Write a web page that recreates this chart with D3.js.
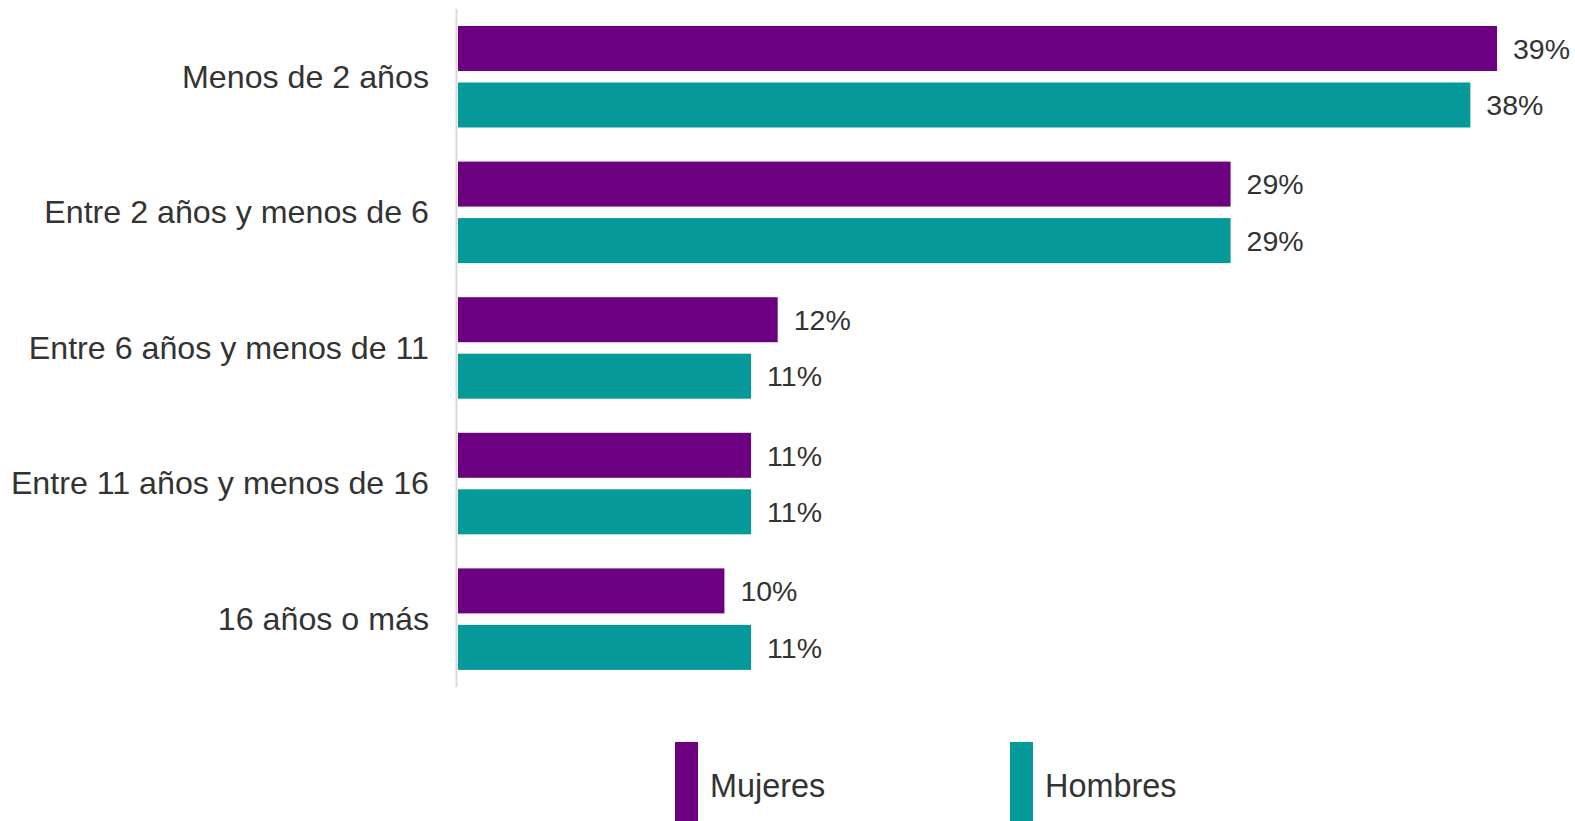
<!DOCTYPE html>
<html>
<head>
<meta charset="utf-8">
<script src="https://d3js.org/d3.v7.min.js"></script>
<style>
  body { margin: 0; background: #fff; }
  svg { display: block; font-family: "Liberation Sans", Arial, sans-serif; }
</style>
</head>
<body>
<svg width="1575" height="821"></svg>
<script>
var categories = ["Menos de 2 años", "Entre 2 años y menos de 6", "Entre 6 años y menos de 11",
                  "Entre 11 años y menos de 16", "16 años o más"];
var series = ["Mujeres", "Hombres"];
var mujeres = [39, 29, 12, 11, 10];
var hombres = [38, 29, 11, 11, 11];
var colors = ["#6b0080", "#05999a"];

var svg = d3.select("svg");

var x = d3.scaleLinear().domain([0, 39]).range([458, 1497]);
var y = d3.scaleBand().domain(categories).range([9, 687]).padding(0);
var y1 = d3.scaleBand().domain(series).range([17, 118.5]).paddingInner(0.2035).paddingOuter(0);
var color = d3.scaleOrdinal().domain(series).range(colors);

var rows = categories.map(function(c, i) {
  return {cat: c, vals: [{s: "Mujeres", v: mujeres[i]}, {s: "Hombres", v: hombres[i]}]};
});

var g = svg.selectAll(".cat")
  .data(rows)
  .enter().append("g")
    .attr("class", "cat")
    .attr("transform", function(d) { return "translate(0," + y(d.cat) + ")"; });

g.selectAll("rect")
  .data(function(d) { return d.vals; })
  .enter().append("rect")
    .attr("x", x(0))
    .attr("y", function(d) { return y1(d.s); })
    .attr("width", function(d) { return x(d.v) - x(0); })
    .attr("height", y1.bandwidth())
    .attr("fill", function(d) { return color(d.s); });

g.selectAll("text.val")
  .data(function(d) { return d.vals; })
  .enter().append("text")
    .attr("class", "val")
    .attr("x", function(d) { return x(d.v) + 16; })
    .attr("y", function(d) { return y1(d.s) + y1.bandwidth() / 2; })
    .attr("dy", "0.36em")
    .attr("font-size", 28.5)
    .attr("fill", "#333")
    .text(function(d) { return d.v + "%"; });

g.append("text")
    .attr("x", 429)
    .attr("y", (y1("Mujeres") + y1("Hombres") + y1.bandwidth()) / 2)
    .attr("dy", "0.34em")
    .attr("text-anchor", "end")
    .attr("font-size", 32.2)
    .attr("fill", "#333")
    .text(function(d) { return d.cat; });

// left axis line
svg.append("line")
    .attr("x1", 456.5).attr("x2", 456.5)
    .attr("y1", 9).attr("y2", 687)
    .attr("stroke", "#d9d9d9")
    .attr("stroke-width", 2);

// legend
var legX = d3.scalePoint().domain(series).range([675, 1010]);
var leg = svg.selectAll(".leg")
  .data(series)
  .enter().append("g")
    .attr("class", "leg")
    .attr("transform", function(d) { return "translate(" + legX(d) + ",742)"; });

leg.append("rect")
    .attr("width", 23)
    .attr("height", 90)
    .attr("fill", function(d) { return color(d); });

leg.append("text")
    .attr("x", 35)
    .attr("y", 55)
    .attr("font-size", 32.4)
    .attr("fill", "#333")
    .text(function(d) { return d; });
</script>
</body>
</html>
